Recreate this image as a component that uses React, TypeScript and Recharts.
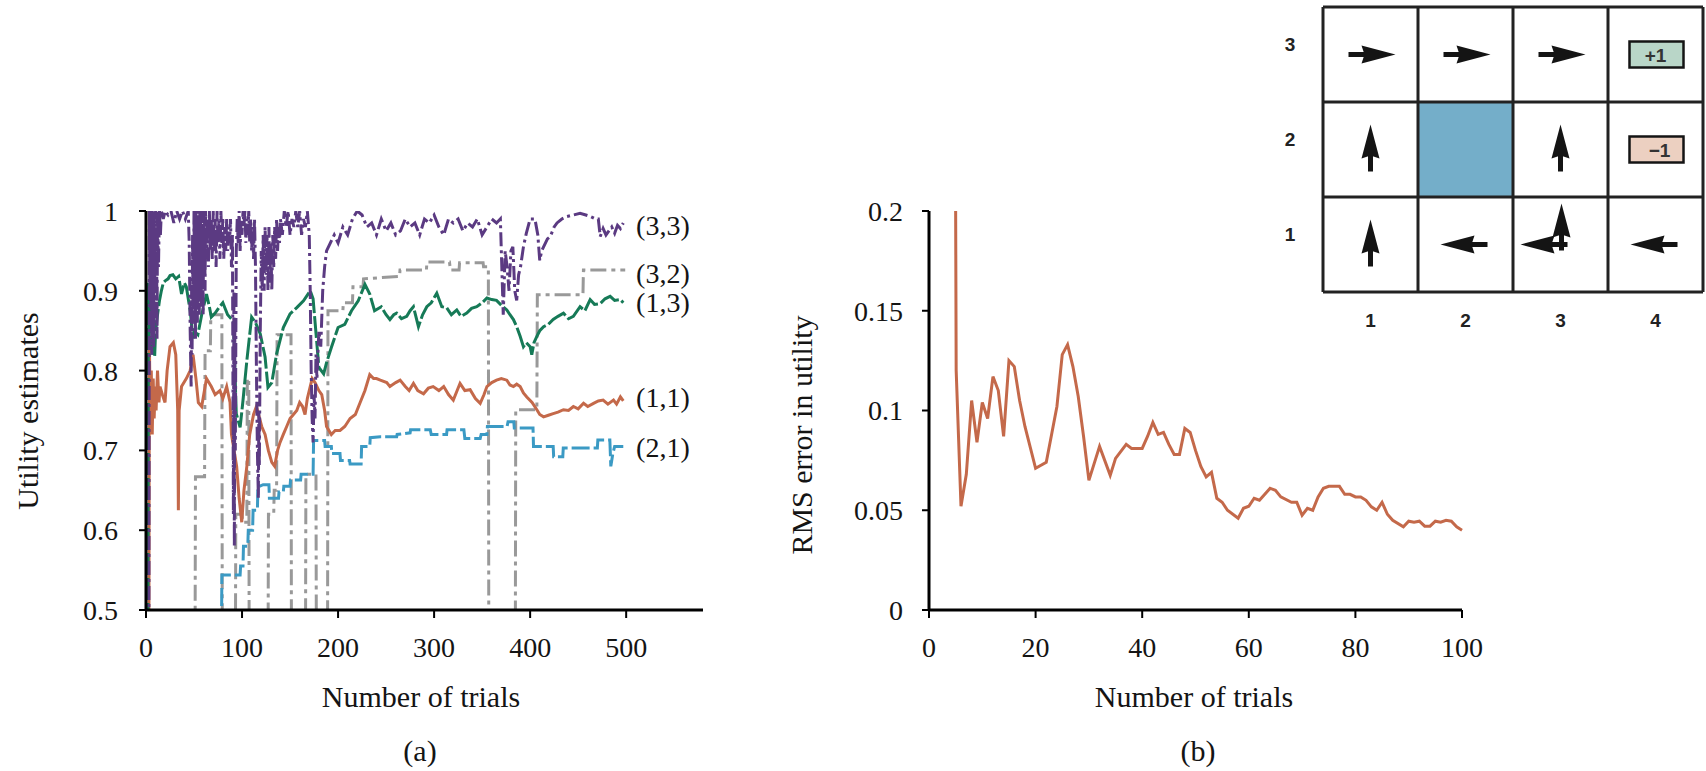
import React from "react";
import { LineChart, Line, XAxis, YAxis, ReferenceDot } from "recharts";

const SERIF = '"Liberation Serif", "DejaVu Serif", serif';
const SANS = '"Liberation Sans", Arial, sans-serif';

// (a) utility estimates vs number of trials
const trials33 = [3, 3.5, 4, 4.5, 5, 5.5, 6, 6.5, 7, 7.5, 8, 8.5, 9, 10, 10.5, 11, 11.5, 12, 13, 14, 15, 16, 18, 20, 23, 26, 29, 32, 35, 38, 41, 44, 45, 46, 47, 47.5, 48, 48.5, 49, 50, 50.5, 51, 51.5, 52, 52.5, 53, 53.5, 54, 54.5, 55, 55.5, 56, 56.5, 57, 57.5, 58, 58.5, 59, 59.5, 60, 60.5, 61, 61.5, 62, 63, 64, 65, 66, 67, 68, 69, 70, 71, 72, 73, 74, 75, 76, 77, 78, 79, 80, 81, 82, 83, 84, 85, 86, 87, 88, 89, 90, 90.5, 91, 91.5, 92, 92.5, 93, 94, 95, 96, 97, 98, 99, 100, 101, 102, 103, 104, 105, 106, 107, 108, 109, 110, 111, 112, 113, 114, 115, 116, 117, 117.5, 118, 119, 120, 121, 122, 123, 124, 125, 126, 127, 128, 129, 130, 131, 132, 133, 134, 135, 136, 137, 138, 139, 140, 142, 144, 146, 148, 150, 152, 154, 156, 158, 160, 162, 164, 166, 168, 170, 171, 172, 173, 174, 175, 176, 177, 178, 180, 182, 184, 186, 188, 192, 196, 200, 205, 210, 215, 220, 225, 230, 235, 240, 245, 250, 255, 260, 265, 270, 275, 280, 285, 290, 295, 300, 305, 310, 315, 320, 325, 330, 335, 340, 345, 350, 355, 360, 365, 369, 370, 372, 374, 376, 378, 380, 382, 384, 386, 388, 390, 393, 396, 400, 405, 408, 410, 412, 414, 418, 421, 425, 428, 433, 438, 445, 452, 458, 463, 468, 471, 473, 476, 479, 482, 485, 488, 491, 494, 497];
const util33 = [0.45, 1.0, 0.9, 1.0, 0.86, 0.98, 0.82, 1.0, 0.88, 0.99, 0.83, 1.0, 0.9, 1.0, 0.86, 0.97, 0.84, 1.0, 0.93, 1.0, 0.97, 1.0, 0.99, 1.0, 0.995, 1.0, 0.985, 1.0, 0.99, 1.0, 0.99, 1.0, 0.96, 0.85, 0.78, 0.9, 0.82, 0.97, 0.86, 1.0, 0.88, 0.98, 0.84, 1.0, 0.9, 0.99, 0.86, 1.0, 0.89, 0.97, 0.87, 1.0, 0.92, 0.99, 0.88, 1.0, 0.91, 0.98, 0.87, 1.0, 0.93, 0.99, 0.9, 1.0, 0.94, 0.99, 0.93, 1.0, 0.95, 0.99, 0.94, 1.0, 0.95, 0.99, 0.93, 1.0, 0.96, 0.99, 0.94, 1.0, 0.96, 0.99, 0.94, 0.98, 0.95, 0.99, 0.95, 0.98, 0.96, 0.99, 0.93, 0.97, 0.8, 0.62, 0.9, 0.58, 0.85, 0.7, 0.95, 0.99, 0.96, 1.0, 0.95, 0.99, 0.97, 1.0, 0.98, 1.0, 0.96, 0.99, 0.97, 1.0, 0.96, 0.99, 0.95, 0.98, 0.94, 0.99, 0.93, 0.8, 0.7, 0.64, 0.75, 0.68, 0.85, 0.95, 0.9, 0.97, 0.9, 0.98, 0.92, 0.97, 0.9, 0.98, 0.91, 0.96, 0.9, 0.97, 0.93, 0.98, 0.94, 0.99, 0.95, 0.98, 0.96, 0.99, 0.97, 1.0, 0.98, 1.0, 0.97, 0.99, 0.98, 1.0, 0.98, 1.0, 0.97, 0.99, 0.98, 1.0, 0.97, 0.9, 0.8, 0.74, 0.71, 0.77, 0.74, 0.82, 0.79, 0.85, 0.83, 0.9, 0.93, 0.95, 0.96, 0.97, 0.96, 0.98, 0.97, 0.99, 1.0, 0.995, 0.98, 0.985, 0.97, 0.99, 0.975, 0.985, 0.97, 0.975, 0.99, 0.98, 0.985, 0.97, 0.99, 0.985, 0.995, 0.98, 0.97, 0.99, 0.985, 0.99, 0.975, 0.985, 0.98, 0.99, 0.97, 0.98, 0.99, 0.985, 0.99, 0.95, 0.87, 0.95, 0.93, 0.9, 0.95, 0.955, 0.9, 0.888, 0.92, 0.93, 0.955, 0.972, 0.99, 0.99, 0.97, 0.938, 0.95, 0.955, 0.965, 0.968, 0.98, 0.985, 0.99, 0.993, 0.995, 0.997, 0.995, 0.993, 0.99, 0.99, 0.968, 0.978, 0.97, 0.975, 0.98, 0.972, 0.982, 0.978, 0.985];

const trials32 = [50, 51, 51.5, 61, 61.5, 67, 67.5, 79, 79.5, 93, 93.5, 100, 100.5, 105, 105.5, 107, 107.5, 127, 127.5, 133, 133.5, 136, 136.5, 151, 151.5, 166, 166.5, 177, 177.5, 189, 189.5, 205, 205.5, 215, 215.5, 226, 226.5, 264, 264.5, 292, 292.5, 316, 317, 326, 326.5, 351, 351.5, 356.5, 357, 384.5, 385, 407, 407.5, 455, 455.5, 499];
const util32 = [0.4, 0.4, 0.667, 0.667, 0.825, 0.825, 0.87, 0.87, 0.4, 0.4, 0.62, 0.62, 0.61, 0.61, 0.79, 0.79, 0.4, 0.4, 0.62, 0.62, 0.65, 0.65, 0.845, 0.845, 0.4, 0.4, 0.67, 0.67, 0.4, 0.4, 0.875, 0.875, 0.885, 0.885, 0.905, 0.905, 0.915, 0.918, 0.926, 0.926, 0.936, 0.936, 0.926, 0.926, 0.935, 0.935, 0.93, 0.93, 0.4, 0.4, 0.751, 0.751, 0.895, 0.895, 0.926, 0.926];

const trials13 = [2, 2.5, 3, 4, 5, 6, 7, 8, 9, 10, 12, 14, 16, 18, 20, 23, 25, 28, 31, 34, 37, 40, 42, 46, 49, 50, 54, 58, 63, 66, 68, 72, 76, 80, 85, 91, 94, 98, 101, 105, 110, 114, 119, 124, 127, 131, 136, 143, 150, 157, 164, 171, 174, 180, 185, 188, 193, 200, 207, 214, 221, 228, 233, 238, 245, 250, 254, 258, 261, 266, 271.5, 275, 278.5, 283.7, 288, 292.4, 297, 302.8, 308, 313, 318, 323.6, 328, 334, 339, 344.4, 350, 355, 360, 365, 370, 375.7, 379, 382.6, 386, 389.6, 393, 396, 400, 401.7, 404, 407, 410, 414, 419, 424, 429, 434.7, 440, 445, 452, 457, 462.5, 467, 473, 478, 483.3, 488, 494, 497];
const util13 = [0.45, 0.91, 0.84, 0.89, 0.83, 0.87, 0.82, 0.86, 0.817, 0.85, 0.87, 0.8875, 0.9, 0.91, 0.9125, 0.915, 0.919, 0.92, 0.915, 0.918, 0.896, 0.91, 0.905, 0.875, 0.84, 0.85, 0.845, 0.87, 0.896, 0.88, 0.867, 0.872, 0.879, 0.885, 0.87, 0.862, 0.746, 0.729, 0.7625, 0.8125, 0.867, 0.86, 0.846, 0.817, 0.779, 0.785, 0.821, 0.854, 0.871, 0.879, 0.8875, 0.9, 0.89, 0.804, 0.796, 0.81, 0.829, 0.854, 0.858, 0.875, 0.8875, 0.908, 0.896, 0.875, 0.88, 0.87, 0.864, 0.87, 0.872, 0.865, 0.868, 0.875, 0.88, 0.855, 0.87, 0.88, 0.885, 0.897, 0.88, 0.879, 0.87, 0.876, 0.868, 0.872, 0.878, 0.88, 0.885, 0.891, 0.889, 0.888, 0.882, 0.876, 0.87, 0.864, 0.855, 0.843, 0.83, 0.835, 0.83, 0.82, 0.835, 0.843, 0.85, 0.855, 0.858, 0.864, 0.868, 0.872, 0.865, 0.868, 0.88, 0.875, 0.889, 0.883, 0.884, 0.89, 0.893, 0.888, 0.889, 0.885];

const trials11 = [3, 3.5, 4.5, 5.5, 6.5, 7.5, 8.5, 9.5, 10.5, 12, 13.5, 14.6, 17, 19.8, 22, 25, 28.5, 31, 33, 33.7, 34.5, 37, 42, 46, 49, 52, 54.5, 58, 63, 68, 72, 77, 80, 84, 87.5, 89, 94.4, 97, 99.7, 102, 105, 108, 112, 115, 120.5, 124, 127.4, 131, 134, 137, 139.6, 143, 146.5, 150, 153.5, 157, 160, 163, 165.6, 168, 171, 173, 176, 180, 183, 186, 188, 193, 197, 202, 207, 212.5, 218, 223, 228, 233, 237, 240, 244, 250.7, 254, 260, 264.6, 270, 274, 278.5, 283, 289, 294, 299, 305, 310, 315, 320, 324, 327, 332, 337.5, 343, 348, 352, 355, 360, 365, 370, 375.7, 379, 382.6, 386, 389.6, 393, 396.5, 402, 407, 410, 414, 419, 424, 429, 434.7, 440, 445, 450, 455.6, 460, 466, 471, 476, 481, 486.8, 490, 494, 497];
const util11 = [0.45, 0.84, 0.73, 0.8, 0.72, 0.79, 0.74, 0.78, 0.75, 0.8, 0.76, 0.78, 0.77, 0.76, 0.8, 0.83, 0.835, 0.82, 0.75, 0.625, 0.75, 0.78, 0.79, 0.8, 0.82, 0.79, 0.76, 0.755, 0.79, 0.78, 0.77, 0.775, 0.765, 0.78, 0.76, 0.72, 0.68, 0.64, 0.61, 0.65, 0.68, 0.72, 0.745, 0.755, 0.73, 0.72, 0.7, 0.685, 0.68, 0.7, 0.71, 0.72, 0.73, 0.74, 0.745, 0.75, 0.76, 0.755, 0.745, 0.765, 0.78, 0.79, 0.785, 0.775, 0.77, 0.75, 0.73, 0.72, 0.725, 0.725, 0.73, 0.74, 0.745, 0.76, 0.775, 0.795, 0.79, 0.79, 0.788, 0.785, 0.78, 0.785, 0.788, 0.78, 0.775, 0.784, 0.775, 0.771, 0.778, 0.78, 0.775, 0.78, 0.77, 0.763, 0.775, 0.784, 0.775, 0.776, 0.765, 0.759, 0.77, 0.78, 0.785, 0.788, 0.79, 0.788, 0.782, 0.78, 0.783, 0.78, 0.772, 0.767, 0.76, 0.751, 0.745, 0.742, 0.744, 0.746, 0.748, 0.751, 0.75, 0.755, 0.752, 0.759, 0.755, 0.759, 0.762, 0.763, 0.758, 0.763, 0.758, 0.767, 0.762];

const trials21 = [78.5, 79, 98, 98.5, 101, 101.5, 106, 106.5, 111, 111.5, 116, 116.5, 122, 128, 128.5, 138, 138.5, 143, 143.5, 150, 150.5, 161, 161.5, 174, 174.5, 186, 186.5, 193, 193.5, 202, 202.5, 212, 212.5, 224, 224.5, 233, 233.5, 244, 261, 261.5, 275, 275.5, 296, 297, 313, 313.5, 331, 332, 348, 349, 355, 355.5, 376, 377, 383, 383.5, 403, 403.5, 424, 424.5, 434, 434.5, 470, 470.5, 483, 484, 486, 488, 497];
const util21 = [0.45, 0.544, 0.544, 0.555, 0.555, 0.58, 0.58, 0.6, 0.6, 0.625, 0.625, 0.654, 0.657, 0.657, 0.64, 0.64, 0.648, 0.648, 0.655, 0.655, 0.663, 0.663, 0.67, 0.67, 0.7125, 0.7125, 0.705, 0.705, 0.696, 0.696, 0.6875, 0.6875, 0.683, 0.683, 0.705, 0.705, 0.716, 0.717, 0.717, 0.72, 0.722, 0.726, 0.726, 0.72, 0.72, 0.726, 0.726, 0.715, 0.715, 0.72, 0.72, 0.73, 0.73, 0.736, 0.736, 0.728, 0.728, 0.705, 0.705, 0.692, 0.692, 0.703, 0.703, 0.713, 0.713, 0.68, 0.695, 0.705, 0.705];

const utilTicksX = [0, 100, 200, 300, 400, 500];
const utilTicksY = [0.5, 0.6, 0.7, 0.8, 0.9, 1];

// (b) RMS error
const rmsTrials = [5, 5.1, 6, 7, 8, 9, 10, 11, 12, 13, 14, 15, 16, 17, 18, 20, 22, 23, 24, 25, 26, 27, 28, 29, 30, 32, 34, 35, 37, 38, 40, 41, 42, 43, 44, 45, 46, 47, 48, 49, 50, 51, 52, 53, 54, 55, 56, 58, 59, 60, 61, 62, 63, 64, 65, 66, 68, 69, 70, 71, 72, 73, 74, 75, 77, 78, 79, 80, 81, 82, 83, 84, 85, 86, 87, 89, 90, 91, 92, 93, 94, 95, 96, 97, 98, 99, 100];
const rmsError = [0.2, 0.12, 0.052, 0.068, 0.105, 0.084, 0.104, 0.096, 0.117, 0.11, 0.087, 0.125, 0.122, 0.105, 0.092, 0.071, 0.074, 0.088, 0.102, 0.128, 0.133, 0.122, 0.107, 0.087, 0.065, 0.082, 0.0675, 0.076, 0.083, 0.081, 0.081, 0.087, 0.094, 0.088, 0.089, 0.083, 0.078, 0.078, 0.091, 0.089, 0.08, 0.072, 0.0667, 0.069, 0.056, 0.054, 0.05, 0.046, 0.051, 0.052, 0.056, 0.055, 0.058, 0.061, 0.06, 0.0567, 0.054, 0.054, 0.0475, 0.051, 0.05, 0.0567, 0.061, 0.062, 0.062, 0.058, 0.058, 0.0567, 0.0567, 0.055, 0.0517, 0.05, 0.054, 0.048, 0.045, 0.0417, 0.0445, 0.044, 0.0445, 0.042, 0.042, 0.0445, 0.044, 0.045, 0.0445, 0.0417, 0.04];

const rmsTicksX = [0, 20, 40, 60, 80, 100];
const rmsTicksY = [0, 0.05, 0.1, 0.15, 0.2];

// policy grid: rows listed top (3) to bottom (1)
const gridPolicy = [
  ["right", "right", "right", "+1"],
  ["up", "wall", "up", "-1"],
  ["up", "left", "upleft", "left"],
];

const zip = (t: number[], v: number[]) => t.map((x, i) => ({ t: x, v: v[i] }));

const tickStyle = { fill: "#141414", fontSize: 28, fontFamily: SERIF };
const axisLine = { stroke: "#000", strokeWidth: 3 };
const tickLine = { stroke: "#000", strokeWidth: 2 };

const seriesLabel = (value: string) => ({
  value,
  position: "right" as const,
  offset: 8,
  fill: "#141414",
  fontSize: 28,
  fontFamily: SERIF,
});

function UtilityChart() {
  return (
    <LineChart
      width={760}
      height={771}
      margin={{ top: 211, right: 57, bottom: 101, left: 66 }}
    >
      <XAxis
        dataKey="t"
        type="number"
        domain={[0, 580]}
        ticks={utilTicksX}
        interval={0}
        allowDataOverflow
        height={60}
        tickSize={8}
        tickMargin={19}
        tick={tickStyle}
        axisLine={axisLine}
        tickLine={tickLine}
      />
      <YAxis
        type="number"
        domain={[0.5, 1]}
        ticks={utilTicksY}
        interval={0}
        allowDataOverflow
        width={80}
        tickSize={7}
        tickMargin={21}
        tick={tickStyle}
        axisLine={axisLine}
        tickLine={tickLine}
      />
      <Line data={zip(trials32, util32)} dataKey="v" type="linear" dot={false} stroke="#999999" strokeWidth={3} strokeDasharray="16 5 4 5" isAnimationActive={false} />
      <Line data={zip(trials21, util21)} dataKey="v" type="linear" dot={false} stroke="#3b9ac4" strokeWidth={3} strokeDasharray="18 4" isAnimationActive={false} />
      <Line data={zip(trials11, util11)} dataKey="v" type="linear" dot={false} stroke="#c4694a" strokeWidth={3} isAnimationActive={false} />
      <Line data={zip(trials13, util13)} dataKey="v" type="linear" dot={false} stroke="#167a57" strokeWidth={3} strokeDasharray="22 3" isAnimationActive={false} />
      <Line data={zip(trials33, util33)} dataKey="v" type="linear" dot={false} stroke="#5b3a82" strokeWidth={3} strokeDasharray="14 4 3 4" isAnimationActive={false} />
      <ReferenceDot x={502} y={0.982} r={0} ifOverflow="visible" label={seriesLabel("(3,3)")} />
      <ReferenceDot x={502} y={0.922} r={0} ifOverflow="visible" label={seriesLabel("(3,2)")} />
      <ReferenceDot x={502} y={0.886} r={0} ifOverflow="visible" label={seriesLabel("(1,3)")} />
      <ReferenceDot x={502} y={0.767} r={0} ifOverflow="visible" label={seriesLabel("(1,1)")} />
      <ReferenceDot x={502} y={0.704} r={0} ifOverflow="visible" label={seriesLabel("(2,1)")} />
    </LineChart>
  );
}

function RmsChart() {
  return (
    <LineChart
      width={760}
      height={771}
      margin={{ top: 211, right: 38, bottom: 101, left: 109 }}
    >
      <XAxis
        dataKey="t"
        type="number"
        domain={[0, 100]}
        ticks={rmsTicksX}
        interval={0}
        height={60}
        tickSize={8}
        tickMargin={19}
        tick={tickStyle}
        axisLine={axisLine}
        tickLine={tickLine}
      />
      <YAxis
        type="number"
        domain={[0, 0.2]}
        ticks={rmsTicksY}
        interval={0}
        width={80}
        tickSize={7}
        tickMargin={19}
        tick={tickStyle}
        axisLine={axisLine}
        tickLine={tickLine}
      />
      <Line data={zip(rmsTrials, rmsError)} dataKey="v" type="linear" dot={false} stroke="#c4694a" strokeWidth={3} isAnimationActive={false} />
    </LineChart>
  );
}

// arrow glyph: tail 22px behind centre, tip 24px ahead
function Arrow({ cx, cy, dir }: { cx: number; cy: number; dir: string }) {
  const angle = { right: 0, left: 180, up: -90 }[dir] ?? 0;
  return (
    <g transform={`translate(${cx},${cy}) rotate(${angle})`} fill="#141414">
      <rect x={-22} y={-2.5} width={17} height={5} />
      <path d="M -9 -9 L 25 0 L -9 9 L -6 0 Z" />
    </g>
  );
}

function PolicyGrid() {
  const x0 = 53;
  const y0 = 7;
  const cell = 95;
  const cells: React.ReactNode[] = [];
  gridPolicy.forEach((row, r) => {
    row.forEach((kind, c) => {
      const cx = x0 + c * cell + cell / 2;
      const cy = y0 + r * cell + cell / 2;
      const key = `${r}-${c}`;
      if (kind === "wall") {
        cells.push(<rect key={key} x={x0 + c * cell} y={y0 + r * cell} width={cell} height={cell} fill="#74aec9" />);
      } else if (kind === "+1" || kind === "-1") {
        const plus = kind === "+1";
        cells.push(
          <g key={key}>
            <rect x={cx - 26} y={cy - 13} width={54} height={26} fill={plus ? "#b9d6c8" : "#ecd0c1"} stroke="#141414" strokeWidth={2.5} />
            <text x={plus ? cx : cx + 4} y={cy + 7} textAnchor="middle" fontFamily={SANS} fontWeight="bold" fontSize={19} fill="#333">
              {plus ? "+1" : "\u22121"}
            </text>
          </g>
        );
      } else if (kind === "upleft") {
        cells.push(
          <g key={key}>
            <Arrow cx={cx - 15} cy={cy} dir="left" />
            <Arrow cx={cx + 1} cy={cy - 16} dir="up" />
          </g>
        );
      } else {
        cells.push(<Arrow key={key} cx={cx} cy={cy} dir={kind} />);
      }
    });
  });
  const lines: React.ReactNode[] = [];
  for (let i = 0; i <= 4; i++) {
    lines.push(<line key={`v${i}`} x1={x0 + i * cell} y1={y0} x2={x0 + i * cell} y2={y0 + 3 * cell} stroke="#222" strokeWidth={3} />);
  }
  for (let j = 0; j <= 3; j++) {
    lines.push(<line key={`h${j}`} x1={x0} y1={y0 + j * cell} x2={x0 + 4 * cell} y2={y0 + j * cell} stroke="#222" strokeWidth={3} />);
  }
  return (
    <svg width={436} height={340} style={{ position: "absolute", left: 1270, top: 0 }}>
      {cells}
      {lines}
      {[3, 2, 1].map((n, r) => (
        <text key={`r${n}`} x={20} y={y0 + r * cell + 44} textAnchor="middle" fontFamily={SANS} fontWeight="bold" fontSize={19} fill="#222">
          {n}
        </text>
      ))}
      {[1, 2, 3, 4].map((n, c) => (
        <text key={`c${n}`} x={x0 + c * cell + cell / 2} y={327} textAnchor="middle" fontFamily={SANS} fontWeight="bold" fontSize={19} fill="#222">
          {n}
        </text>
      ))}
    </svg>
  );
}

const textBase: React.CSSProperties = {
  position: "absolute",
  fontFamily: SERIF,
  fontSize: 30,
  color: "#141414",
  whiteSpace: "nowrap",
  lineHeight: 1,
};

function Caption({ x, y, rotate, children }: { x: number; y: number; rotate?: boolean; children: React.ReactNode }) {
  return (
    <div
      style={{
        ...textBase,
        left: x,
        top: y,
        transform: `translate(-50%, -50%)${rotate ? " rotate(-90deg)" : ""}`,
      }}
    >
      {children}
    </div>
  );
}

export default function App() {
  return (
    <div style={{ position: "absolute", left: 0, top: 0, width: 1706, height: 771, background: "#fff", overflow: "hidden" }}>
      <div style={{ position: "absolute", left: 0, top: 0 }}>
        <UtilityChart />
      </div>
      <div style={{ position: "absolute", left: 740, top: 0 }}>
        <RmsChart />
      </div>
      <PolicyGrid />
      <Caption x={28} y={411} rotate>Utility estimates</Caption>
      <Caption x={421} y={697}>Number of trials</Caption>
      <Caption x={420} y={751}>(a)</Caption>
      <Caption x={802} y={435} rotate>RMS error in utility</Caption>
      <Caption x={1194} y={697}>Number of trials</Caption>
      <Caption x={1198} y={751}>(b)</Caption>
    </div>
  );
}
